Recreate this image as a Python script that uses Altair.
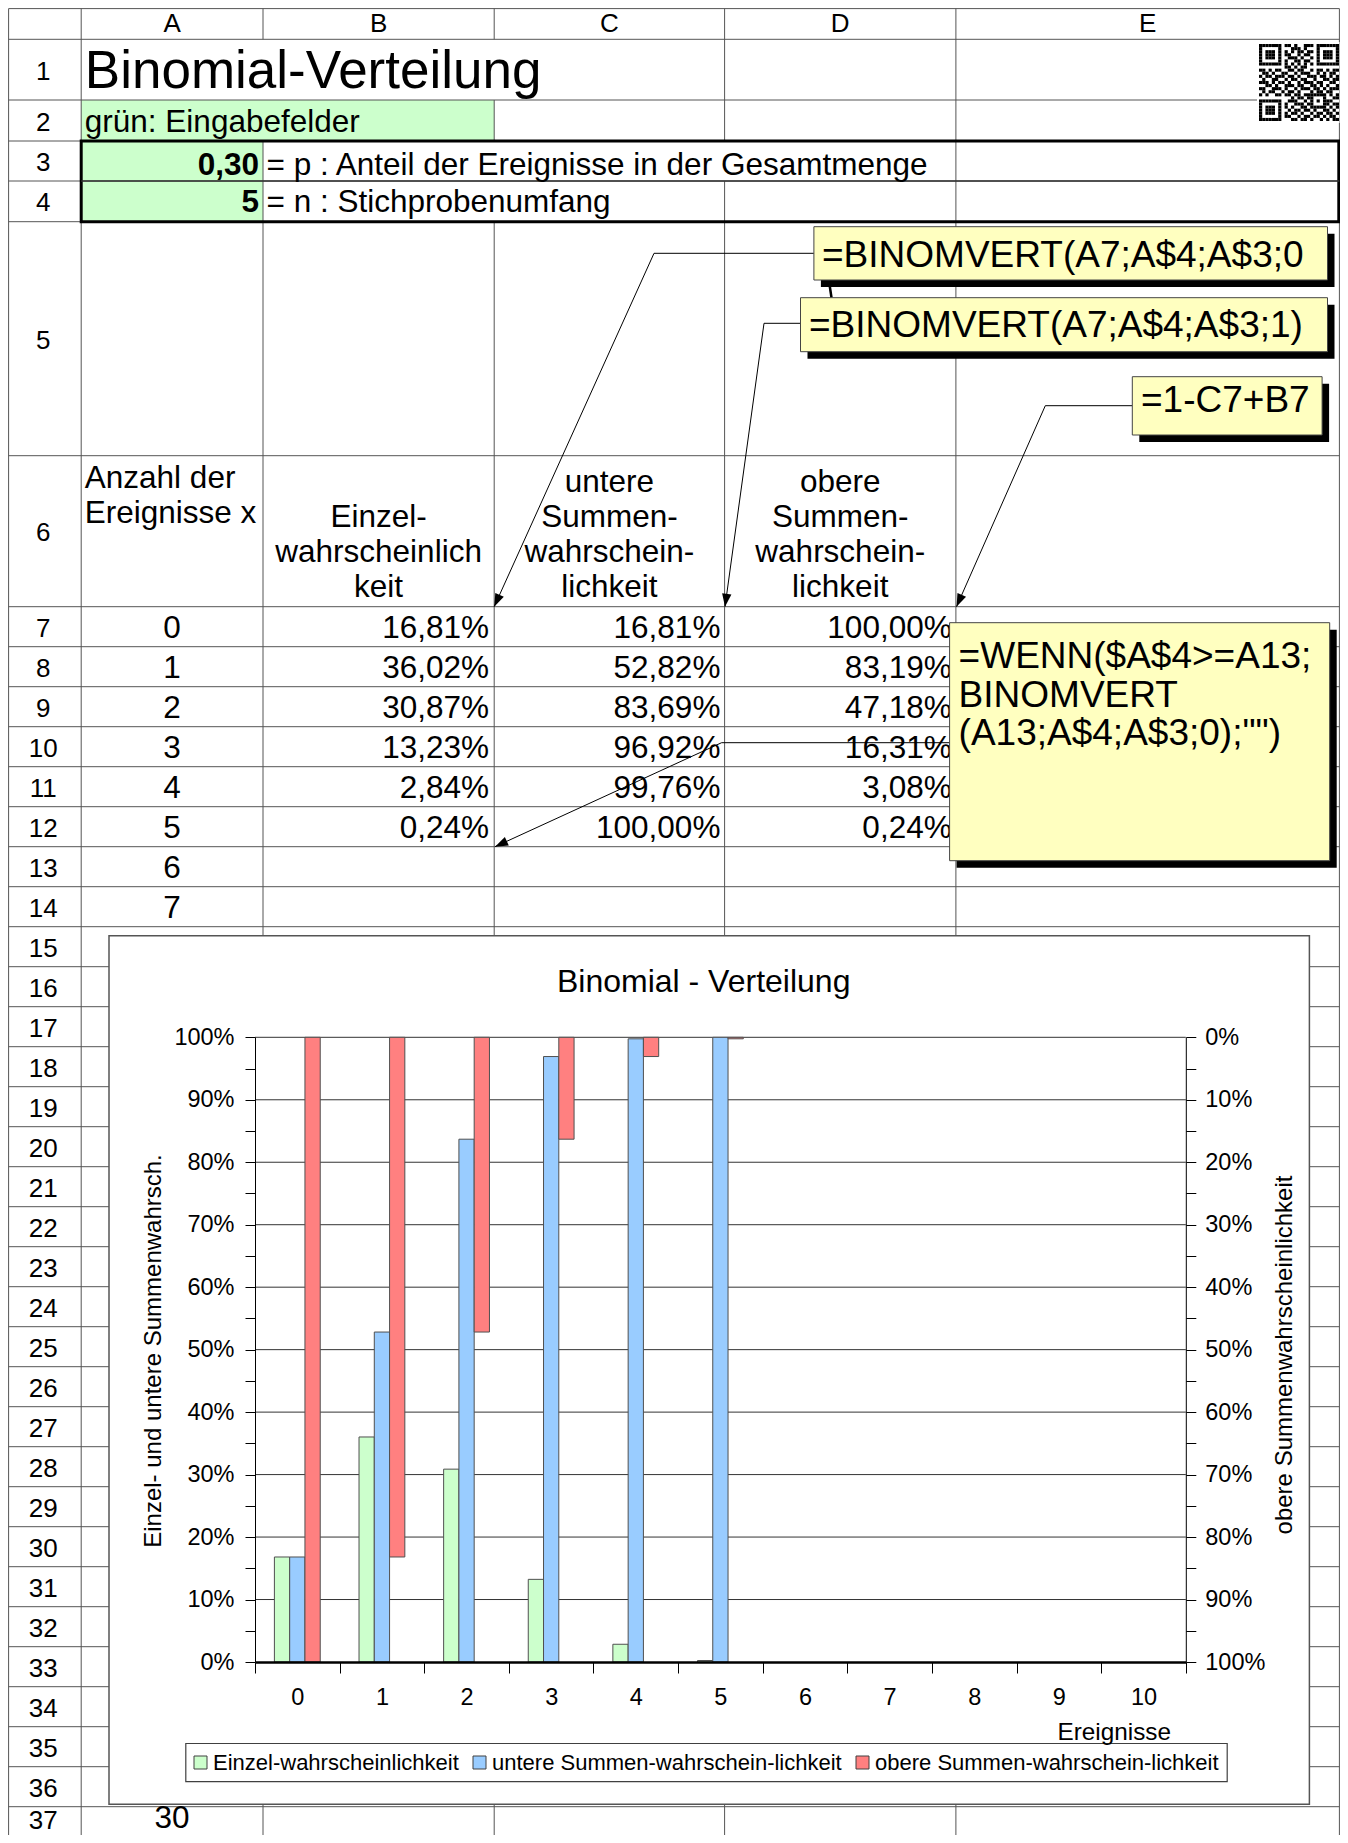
import math
import altair as alt
import pandas as pd

# ---------------- values read from the sheet ----------------
k_values = [0, 1, 2, 3, 4, 5]
einzel = [0.1681, 0.3602, 0.3087, 0.1323, 0.0284, 0.0024]
untere = [0.1681, 0.5282, 0.8369, 0.9692, 0.9976, 1.0000]
obere = [1.0000, 0.8319, 0.4718, 0.1631, 0.0308, 0.0024]
einzel_txt = ["16,81%", "36,02%", "30,87%", "13,23%", "2,84%", "0,24%"]
untere_txt = ["16,81%", "52,82%", "83,69%", "96,92%", "99,76%", "100,00%"]
obere_txt = ["100,00%", "83,19%", "47,18%", "16,31%", "3,08%", "0,24%"]
a_visible_rows = [7, 8, 9, 10, 11, 12, 13, 14, 37]   # column A cells not hidden by the chart
a_visible_values = [0, 1, 2, 3, 4, 5, 6, 7, 30]
x_categories = list(range(11))             # chart categories 0..10
col_letters = ["A", "B", "C", "D", "E"]
p_txt = "0,30"
n_txt = "5"
series_names = ["Einzel-wahrscheinlichkeit",
                "untere Summen-wahrschein-lichkeit",
                "obere Summen-wahrschein-lichkeit"]
series_colors = ["#ccffcc", "#99ccff", "#ff8080"]
pct_ticks = [i / 20 for i in range(21)]
grid_values = [i / 10 for i in range(1, 11)]

FONT = "Liberation Sans"

# ---------------- page geometry (reference pixels = page pixels) ----------------
X0, W = 8.0, 1332
Y0, H = 8.0, 1827
X1 = X0 + W
Y1 = Y0 + H


def rx(v):
    return v - X0


def ry(v):
    return v - Y0


COLS = [8.6, 81.2, 263.0, 494.2, 724.6, 955.9, 1339.4]
ROW_EDGES = [8.6, 39.3, 100.0, 141.0, 181.0, 221.7, 455.7, 606.7] + [606.7 + 40 * i for i in range(1, 32)]


def row_top(r):
    return ROW_EDGES[r]


def row_bot(r):
    return ROW_EDGES[r + 1]


def col_center(c):
    return (COLS[c + 1] + COLS[c + 2]) / 2


SX = alt.Scale(domain=[X0, X1], range=[0, W], nice=False, zero=False)
SY = alt.Scale(domain=[Y0, Y1], range=[0, H], nice=False, zero=False)


def rect_layer(rows, **mk):
    df = pd.DataFrame(rows)
    return alt.Chart(df).mark_rect(**mk).encode(
        x=alt.X("x:Q", scale=SX, axis=None), x2="x2:Q",
        y=alt.Y("y:Q", scale=SY, axis=None), y2="y2:Q")


def seg_layer(rows, color, width):
    df = pd.DataFrame(rows)
    return alt.Chart(df).mark_rule(color=color, strokeWidth=width).encode(
        x=alt.X("x:Q", scale=SX, axis=None), x2="x2:Q",
        y=alt.Y("y:Q", scale=SY, axis=None), y2="y2:Q")


def text_layer(rows, size, align="left", baseline="alphabetic", weight="normal", angle=0, line_height=None):
    df = pd.DataFrame(rows, columns=["x", "y", "t"])
    mk = dict(font=FONT, fontSize=size, align=align, baseline=baseline,
              fontWeight=weight, angle=angle, color="black")
    if line_height is not None:
        mk.update(lineBreak="\n", lineHeight=line_height)
    return alt.Chart(df).mark_text(**mk).encode(
        x=alt.X("x:Q", scale=SX, axis=None),
        y=alt.Y("y:Q", scale=SY, axis=None),
        text="t:N")


layers = []

# green input cells
layers.append(rect_layer([
    dict(x=COLS[1], x2=COLS[3], y=row_top(2), y2=row_bot(2)),
    dict(x=COLS[1], x2=COLS[2], y=row_top(3), y2=row_bot(4)),
], color="#ccffcc"))

# grid lines
YE = Y1
hsegs = [dict(x=COLS[0], x2=COLS[-1], y=e, y2=e) for e in ROW_EDGES if e < YE]
top = ROW_EDGES[0]
vspans = {
    COLS[0]: [(top, YE)],
    COLS[1]: [(top, YE)],
    COLS[2]: [(top, 39.3), (141.0, YE)],
    COLS[3]: [(top, 39.3), (100.0, 141.0), (221.7, YE)],
    COLS[4]: [(top, 141.0), (181.0, YE)],
    COLS[5]: [(top, YE)],
    COLS[6]: [(top, YE)],
}
vsegs = [dict(x=xv, x2=xv, y=a, y2=b) for xv, spans in vspans.items() for a, b in spans]
layers.append(seg_layer(hsegs + vsegs, "#555555", 1))

# thick box round rows 3-4
layers.append(rect_layer([dict(x=COLS[1], x2=COLS[6] - 0.6, y=row_top(3), y2=row_bot(4))],
                         fillOpacity=0, stroke="black", strokeWidth=3))
layers.append(seg_layer([dict(x=COLS[1], x2=COLS[6], y=row_bot(3), y2=row_bot(3))], "#333333", 1.5))

# header letters and row numbers (last row kept inside the page)
layers.append(text_layer([(col_center(i), 24.3, t) for i, t in enumerate(col_letters)],
                         26, align="center", baseline="middle"))
rownum_rows = [(43.3, min((row_top(r) + row_bot(r)) / 2 + 2, 1820.5), str(r)) for r in range(1, 38)]
layers.append(text_layer(rownum_rows, 26, align="center", baseline="middle"))

# sheet texts
layers.append(text_layer([(84.8, 88.0, "Binomial-Verteilung")], 53))
layers.append(text_layer([
    (84.8, 131.7, "grün: Eingabefelder"),
    (266.5, 175.0, "= p : Anteil der Ereignisse in der Gesamtmenge"),
    (266.5, 212.0, "= n : Stichprobenumfang"),
], 31.5))
layers.append(text_layer([(259.0, 175.0, p_txt), (259.0, 212.0, n_txt)], 31.5, align="right", weight="bold"))

# column headers of row 6 (wrapped cell text)
layers.append(text_layer([(84.8, 488.3, "Anzahl der\nEreignisse x")], 31.5, line_height=35.0))
hdr = [
    (col_center(1), 527.3, "Einzel-\nwahrscheinlich\nkeit"),
    (col_center(2), 492.3, "untere\nSummen-\nwahrschein-\nlichkeit"),
    (col_center(3), 492.3, "obere\nSummen-\nwahrschein-\nlichkeit"),
]
layers.append(text_layer(hdr, 31.5, align="center", line_height=35.0))

a_rows = [(col_center(0), min(row_bot(r) - 8.5, 1827.5), str(v)) for r, v in zip(a_visible_rows, a_visible_values)]
layers.append(text_layer(a_rows, 31.5, align="center"))
num_rows = []
for i in range(len(k_values)):
    yb = row_bot(7 + i) - 8.5
    num_rows.append((COLS[3] - 5.2, yb, einzel_txt[i]))
    num_rows.append((COLS[4] - 4.2, yb, untere_txt[i]))
    num_rows.append((COLS[5] - 4.2, yb, obere_txt[i]))
layers.append(text_layer(num_rows, 31.5, align="right"))

# QR code in E1:E2
qr_bits = [
    "1011001011010011101100101",
    "0110101100111010010110110",
    "1100110010101101100101011",
    "0011010111001011011010100",
    "1101001101110100101101011",
    "0101110010011011010010110",
    "1010101010101010101010101",
    "0110010011010110011001101",
    "1101011001101100101101011",
    "0110100110010111001010110",
    "1011011101101001110110101",
    "0100110010110110010011011",
    "1110101101001011101100110",
    "0011010011101100110101001",
    "1100111010010111011010111",
    "0101100101101000101101100",
    "1010011011011011100110101",
    "0110110100101101011010011",
    "1011001101110010110101100",
    "0100111010011101001011011",
    "1101010110100110110100101",
    "0010101101011011010011010",
    "1011100110110100101101101",
    "0110011011001011011010110",
    "1101101100110110100101011",
]
NQ = len(qr_bits)
qgrid = [[int(ch) for ch in row] for row in qr_bits]


def put_finder(r0, c0):
    for r in range(-1, 8):
        for c in range(-1, 8):
            rr, cc = r0 + r, c0 + c
            if 0 <= rr < NQ and 0 <= cc < NQ:
                if 0 <= r <= 6 and 0 <= c <= 6:
                    v = 1 if (r in (0, 6) or c in (0, 6) or (2 <= r <= 4 and 2 <= c <= 4)) else 0
                else:
                    v = 0
                qgrid[rr][cc] = v


put_finder(0, 0)
put_finder(0, NQ - 7)
put_finder(NQ - 7, 0)
for i in range(8, NQ - 8):
    qgrid[6][i] = 1 if i % 2 == 0 else 0
    qgrid[i][6] = 1 if i % 2 == 0 else 0
for r in range(-2, 3):
    for c in range(-2, 3):
        qgrid[18 + r][18 + c] = 1 if max(abs(r), abs(c)) != 1 else 0
QX0, QX1, QY0, QY1 = 1259.0, 1339.0, 44.0, 121.0
mw = (QX1 - QX0) / NQ
mh = (QY1 - QY0) / NQ
layers.append(rect_layer([dict(x=QX0 - 2, x2=QX1 + 0.5, y=QY0 - 2, y2=QY1 + 2)], color="white"))
qr_rows = [dict(x=QX0 + c * mw, x2=QX0 + (c + 1) * mw, y=QY0 + r * mh, y2=QY0 + (r + 1) * mh)
           for r in range(NQ) for c in range(NQ) if qgrid[r][c]]
layers.append(rect_layer(qr_rows, color="black"))

# callout connectors with arrowheads
polylines = [
    [(813.9, 253.3), (654.0, 253.3), (494.2, 606.7)],
    [(800.5, 323.3), (764.0, 323.3), (725.0, 606.7)],
    [(1132.3, 405.7), (1045.3, 405.7), (956.5, 606.7)],
    [(949.6, 742.7), (721.6, 742.7), (495.0, 846.7)],
]
segs = []
tips = []
for pl in polylines:
    for (xa, ya), (xb, yb) in zip(pl[:-1], pl[1:]):
        segs.append(dict(x=xa, x2=xb, y=ya, y2=yb))
    (xa, ya), (xb, yb) = pl[-2], pl[-1]
    ang = math.degrees(math.atan2(-(rx(xb) - rx(xa)), ry(yb) - ry(ya))) % 360
    tips.append(dict(x=xb, y=yb, ang=ang))
layers.append(seg_layer(segs, "black", 1))
layers.append(seg_layer([dict(x=829.0, x2=831.5, y=281.0, y2=297.7)], "black", 2.5))
layers.append(alt.Chart(pd.DataFrame(tips)).mark_point(
    shape="M0,0L-0.36,-1L0.36,-1Z", filled=True, color="black", size=676, opacity=1).encode(
    x=alt.X("x:Q", scale=SX, axis=None), y=alt.Y("y:Q", scale=SY, axis=None),
    angle=alt.Angle("ang:Q", scale=None)))

# callout boxes
boxes = [(813.9, 1327.5, 226.7, 280.0), (800.5, 1327.5, 297.7, 351.7),
         (1132.3, 1322.1, 376.7, 435.0), (949.6, 1329.7, 622.7, 860.7)]
layers.append(rect_layer([dict(x=a + 7, x2=b + 7, y=c + 7, y2=d + 7) for a, b, c, d in boxes], color="black"))
layers.append(rect_layer([dict(x=a, x2=b, y=c, y2=d) for a, b, c, d in boxes],
                         fill="#ffffc0", stroke="#444444", strokeWidth=1))
layers.append(text_layer([
    (822.0, 266.7, "=BINOMVERT(A7;A$4;A$3;0"),
    (809.0, 336.7, "=BINOMVERT(A7;A$4;A$3;1)"),
    (1141.0, 411.7, "=1-C7+B7"),
], 37))
layers.append(text_layer([(958.6, 668.3, '=WENN($A$4>=A13;\nBINOMVERT\n(A13;A$4;A$3;0);"")')],
                         37, line_height=38.4))

# embedded chart frame, legend frame and chart texts
layers.append(rect_layer([dict(x=109.0, x2=1309.4, y=935.7, y2=1804.3)],
                         fill="white", stroke="#555555", strokeWidth=1.5))
layers.append(rect_layer([dict(x=185.8, x2=1227.2, y=1743.5, y2=1781.7)],
                         fill="white", stroke="#404040", strokeWidth=1.2))
layers.append(text_layer([(703.7, 991.7, "Binomial - Verteilung")], 32, align="center"))
layers.append(text_layer([(154.0, 1351.0, "Einzel- und untere Summenwahrsch."),
                          (1285.0, 1355.0, "obere Summenwahrscheinlichkeit")],
                         24, align="center", baseline="middle", angle=270))
layers.append(text_layer([(1171.0, 1740.0, "Ereignisse")], 24.3, align="right"))

pixel_group = alt.layer(*layers)

# ---------------- the bar chart ----------------
PLOT_L, PLOT_R, PLOT_T, PLOT_B = 255.0, 1185.8, 1037.3, 1662.0

X_BAND = alt.Scale(domain=x_categories, range=[rx(PLOT_L), rx(PLOT_R)], paddingInner=0, paddingOuter=0)
X_OFF = alt.Scale(domain=["_l"] + series_names + ["_r"], paddingInner=0, paddingOuter=0.27)
Y_MAIN = alt.Scale(domain=[0, 1], range=[ry(PLOT_B), ry(PLOT_T)], nice=False)
Y_SEC = alt.Scale(domain=[0, 1], range=[ry(PLOT_T), ry(PLOT_B)], nice=False)
COLOR = alt.Scale(domain=series_names, range=series_colors)

label_expr = "round(datum.value * 100) % 10 == 0 ? datum.label : ''"

X_AXIS = alt.Axis(title=None, orient="bottom", offset=ry(PLOT_B) - H, domainColor="black", domainWidth=2.5,
                  tickColor="black", tickSize=11, tickWidth=1, tickBand="extent", labelFont=FONT,
                  labelFontSize=23.5, labelColor="black", labelPadding=12, labelAngle=0, grid=False, zindex=1)
Y_LEFT = alt.Axis(title=None, orient="left", offset=-rx(PLOT_L), values=pct_ticks, format=".0%",
                  labelExpr=label_expr, tickColor="black", tickSize=10, domainColor="black", domainWidth=1,
                  labelFont=FONT, labelFontSize=23.5, labelColor="black", labelPadding=11, grid=False,
                  labelOverlap=False, labelFlush=False, zindex=1)
Y_RIGHT = alt.Axis(title=None, orient="right", offset=rx(PLOT_R) - W, values=pct_ticks, format=".0%",
                   labelExpr=label_expr, tickColor="black", tickSize=10, domainColor="black", domainWidth=1,
                   labelFont=FONT, labelFontSize=23.5, labelColor="black", labelPadding=9, grid=False,
                   labelOverlap=False, labelFlush=False, zindex=1)
LEGEND = alt.Legend(title=None, orient="none", legendX=rx(189.5), legendY=ry(1751.5), direction="horizontal",
                    columns=3, symbolType="square", symbolSize=169, symbolStrokeColor="#404040",
                    symbolStrokeWidth=1, labelFont=FONT, labelFontSize=22, labelColor="black", labelLimit=600,
                    padding=0, columnPadding=9, labelOffset=1.5)

grid_df = pd.DataFrame({"v": grid_values})
grid_rules = alt.Chart(grid_df).mark_rule(color="#333333", strokeWidth=1).encode(
    y=alt.Y("v:Q", scale=Y_MAIN, axis=None),
    x=alt.value(rx(PLOT_L)), x2=alt.value(rx(PLOT_R)))

gb_df = pd.DataFrame({"k": k_values * 2,
                      "series": [series_names[0]] * len(k_values) + [series_names[1]] * len(k_values),
                      "value": einzel + untere})
red_df = pd.DataFrame({"k": k_values, "series": [series_names[2]] * len(k_values), "value": obere})

gb_bars = alt.Chart(gb_df).mark_bar(stroke="#505050", strokeWidth=1).encode(
    x=alt.X("k:O", scale=X_BAND, axis=X_AXIS),
    xOffset=alt.XOffset("series:N", scale=X_OFF),
    y=alt.Y("value:Q", scale=Y_MAIN, axis=Y_LEFT),
    color=alt.Color("series:N", scale=COLOR, legend=LEGEND))
red_bars = alt.Chart(red_df).mark_bar(stroke="#505050", strokeWidth=1).encode(
    x=alt.X("k:O", scale=X_BAND, axis=X_AXIS),
    xOffset=alt.XOffset("series:N", scale=X_OFF),
    y=alt.Y("value:Q", scale=Y_SEC, axis=Y_RIGHT),
    color=alt.Color("series:N", scale=COLOR, legend=LEGEND))

chart_group = alt.layer(grid_rules, gb_bars, red_bars).resolve_scale(y="independent")

chart = alt.layer(pixel_group, chart_group).resolve_scale(
    x="independent", y="independent"
).properties(
    width=W, height=H, padding=0, autosize=alt.AutoSizeParams(type="none")
).configure(font=FONT, view=alt.ViewConfig(strokeWidth=0))

chart.save("out.html", embed_options={"renderer": "svg", "actions": False})
